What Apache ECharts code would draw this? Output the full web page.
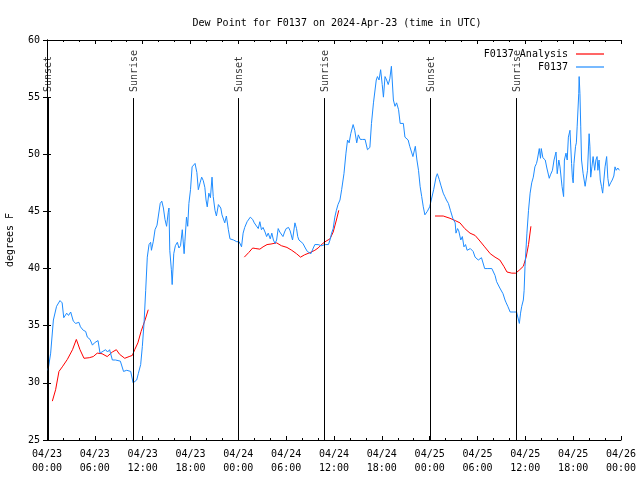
<!DOCTYPE html>
<html>
<head>
<meta charset="utf-8">
<script src="https://cdn.jsdelivr.net/npm/echarts@6/dist/echarts.min.js"></script>
<style>html,body{margin:0;padding:0;background:#fff}#c{width:640px;height:480px}</style>
</head>
<body>
<div id="c"></div>
<script>
// ---- data (x = hours since 2024-04-23 00:00 UTC, y = dew point °F) ----
const xTickLabels = ["04/23\n00:00","04/23\n06:00","04/23\n12:00","04/23\n18:00","04/24\n00:00","04/24\n06:00","04/24\n12:00","04/24\n18:00","04/25\n00:00","04/25\n06:00","04/25\n12:00","04/25\n18:00","04/26\n00:00"];
const yTicks = [25,30,35,40,45,50,55,60];

const sunEventHours = [0.1, 10.83, 24.04, 34.79, 48.04, 58.87];
const sunEventLabels = ["Sunset","Sunrise","Sunset","Sunrise","Sunset","Sunrise"];

const obsHours = [0.13,0.46,0.8,1.2,1.63,1.9,2.1,2.47,2.7,2.97,3.3,3.6,4.0,4.2,4.55,4.85,5.06,5.4,5.7,5.95,6.2,6.4,6.65,6.9,7.35,7.6,7.85,8.2,8.6,9.2,9.6,10.0,10.5,10.8,11.0,11.25,11.45,11.75,11.96,12.17,12.38,12.58,12.8,13.0,13.1,13.34,13.55,13.8,14.2,14.4,14.6,14.8,15.0,15.2,15.3,15.4,15.6,15.7,15.9,16.1,16.35,16.55,16.75,16.97,17.2,17.3,17.5,17.65,17.8,18.0,18.2,18.35,18.57,18.8,18.98,19.2,19.4,19.6,19.8,19.95,20.1,20.3,20.5,20.7,20.85,21.07,21.25,21.5,21.8,21.95,22.3,22.5,22.75,22.95,23.4,23.8,24.1,24.4,24.6,24.8,25.1,25.5,25.8,26.0,26.2,26.5,26.7,26.9,27.1,27.35,27.55,27.75,28.0,28.2,28.4,28.6,28.8,29.0,29.2,29.4,29.6,29.8,30.0,30.3,30.5,30.8,31.1,31.3,31.45,31.6,32.1,32.4,32.65,32.85,33.1,33.4,33.6,34.0,34.4,34.9,35.3,35.5,35.7,35.9,36.1,36.3,36.5,36.75,36.96,37.25,37.5,37.7,37.9,38.1,38.4,38.6,38.85,39.05,39.3,39.6,39.9,40.2,40.5,40.7,40.95,41.3,41.45,41.65,41.85,42.05,42.2,42.4,42.6,42.8,43.0,43.2,43.45,43.65,43.85,44.1,44.3,44.7,44.9,45.3,45.5,45.9,46.2,46.4,46.6,46.8,47.0,47.2,47.4,47.7,48.0,48.2,48.5,48.8,48.96,49.2,49.4,49.7,49.9,50.1,50.35,50.6,50.9,51.2,51.3,51.5,51.65,51.9,52.1,52.3,52.5,52.7,52.9,53.1,53.2,53.45,53.7,53.9,54.1,54.3,54.5,54.7,54.9,55.1,55.3,55.8,56.0,56.2,56.4,56.6,56.8,57.0,57.2,57.45,57.6,57.8,58.1,58.5,58.9,59.1,59.25,59.4,59.55,59.75,59.85,59.96,60.2,60.4,60.6,60.8,61.0,61.2,61.4,61.5,61.75,61.9,62.0,62.2,62.5,62.7,63.0,63.15,63.4,63.6,63.85,64.0,64.2,64.35,64.6,64.8,64.9,65.1,65.25,65.4,65.6,65.8,65.9,66.0,66.1,66.3,66.4,66.5,66.7,66.75,66.85,66.95,67.05,67.25,67.5,67.7,67.8,68.0,68.1,68.2,68.35,68.5,68.7,68.85,69.0,69.1,69.25,69.4,69.55,69.7,69.85,70.0,70.2,70.35,70.5,70.7,70.9,71.1,71.25,71.4,71.6,71.8];
const obsValues = [31.1,32.6,35.5,36.7,37.2,37.0,35.7,36.1,35.9,36.2,35.4,35.2,35.3,34.9,34.6,34.5,34.0,33.8,33.3,33.5,33.6,33.7,32.6,32.7,32.9,32.7,32.9,32.0,32.0,31.9,31.0,31.1,31.0,30.0,30.0,30.25,30.8,31.6,33.2,35.2,38.1,41.0,42.1,42.3,41.6,42.4,43.4,43.8,45.7,45.9,45.3,44.3,43.7,44.9,45.3,41.6,39.9,38.6,41.3,42.0,42.3,41.8,42.0,43.4,41.3,42.4,44.5,43.7,45.7,46.9,48.9,48.8,49.2,48.4,46.9,47.5,48.0,47.7,47.1,46.0,45.4,46.6,46.2,48.0,46.3,45.1,44.6,45.6,45.3,44.7,44.0,44.6,43.4,42.6,42.5,42.35,42.35,41.9,43.1,43.6,44.1,44.5,44.3,44.0,44.1,43.5,44.1,43.4,43.6,43.2,42.8,43.1,42.6,43.1,42.5,42.2,42.5,43.5,43.2,43.1,42.8,43.2,43.5,43.6,43.3,42.5,44.0,43.5,42.8,42.5,42.2,41.8,41.5,41.6,41.3,41.8,42.1,42.1,42.0,42.1,42.1,42.5,43.1,43.5,44.5,45.1,45.6,46.0,46.9,48.3,50.1,51.25,51.0,51.8,52.6,52.1,51.0,51.7,51.3,51.3,51.3,50.4,50.6,52.7,54.5,56.5,56.8,56.5,57.4,56.1,55.0,56.8,56.5,56.1,56.6,57.7,54.75,54.2,54.5,53.9,52.7,52.7,51.5,51.25,50.7,49.8,50.7,49.5,48.6,47.2,46.3,45.4,44.7,45.0,45.4,46.0,46.9,48.0,48.3,47.8,47.3,46.6,46.3,46.0,45.7,45.1,44.4,44.0,43.1,43.5,43.3,42.5,42.8,41.9,42.1,41.6,41.5,41.75,41.9,41.5,41.0,41.1,40.75,40.9,40.95,40.9,40.0,40.1,40.0,40.0,39.9,39.4,38.85,38.7,38.3,38.2,37.8,37.25,37.0,36.7,36.2,36.2,36.2,36.1,35.2,36.1,36.7,37.25,38.1,40.2,43.1,45.1,46.6,47.5,48.0,48.9,49.2,49.5,50.5,49.65,50.5,49.7,49.5,48.8,47.9,48.2,48.6,49.5,50.2,48.3,49.5,48.9,47.2,46.3,49.5,50.1,49.5,51.5,52.1,49.2,48.0,47.5,49.2,50.7,51.0,52.4,55.3,56.8,55.3,52.4,49.5,48.3,47.2,47.2,48.6,51.8,50.65,48.0,48.9,49.8,48.6,49.5,49.8,48.6,49.5,47.75,47.2,46.6,47.75,48.9,49.8,47.9,47.2,47.5,47.75,48.1,48.9,48.6,48.8,48.6];

const anaHours = [0.67,1.08,1.5,1.92,2.55,3.2,3.68,4.14,4.64,5.3,5.8,6.3,6.9,7.55,8.2,8.7,9.1,9.75,10.3,10.7,11.0,11.4,11.8,12.3,12.7,18.0,
  24.75,25.3,25.8,26.2,26.7,27.1,27.6,28.1,28.8,29.4,30.1,30.7,31.3,31.8,32.3,33.0,33.6,34.0,34.6,35.0,35.5,35.9,36.3,36.6,42.0,
  48.67,49.7,50.55,51.2,51.8,52.4,53.06,53.7,54.2,54.9,55.6,56.2,56.8,57.3,57.7,58.3,58.8,59.3,59.75,60.1,60.4,60.7];
const anaValues = [28.4,29.4,31.0,31.4,32.05,32.9,33.8,32.9,32.15,32.2,32.3,32.6,32.55,32.3,32.7,32.9,32.5,32.15,32.3,32.4,32.9,33.5,34.5,35.5,36.4,null,
  41.0,41.4,41.8,41.75,41.7,41.9,42.1,42.15,42.25,42.0,41.85,41.6,41.3,41.0,41.2,41.4,41.6,41.8,42.2,42.4,42.6,43.2,44.25,45.1,null,
  44.6,44.6,44.4,44.2,44.0,43.5,43.1,42.9,42.5,41.9,41.3,41.0,40.75,40.2,39.7,39.6,39.6,39.9,40.2,41.0,42.1,43.7];

// ---- chart ----
const FONT = '"DejaVu Sans Mono", "Liberation Mono", monospace';
const txt = {fontFamily: FONT, fontSize: 10, color: '#000'};
const sunLabelY = 55.45, sunLineTop = 54.92;

const obsData = obsHours.map((h, i) => [h, obsValues[i]]);
const anaData = anaHours.map((h, i) => [h, anaValues[i]]);
const sunData = sunEventHours.map((h, i) => [h, sunLabelY, sunEventLabels[i]]);
const sunLines = sunEventHours.map(h => [{coord: [h, 25]}, {coord: [h, sunLineTop]}]);

const baseX = {type: 'value', min: 0, max: 72, interval: 6,
  axisLine: {show: true, lineStyle: {color: '#000', width: 1}},
  axisTick: {show: true, inside: true, length: 4, lineStyle: {color: '#000'}},
  minorTick: {show: true, splitNumber: 3, length: 2, lineStyle: {color: '#000'}},
  splitLine: {show: false}};
const baseY = {type: 'value', min: 25, max: 60, interval: 5,
  axisLine: {show: true, lineStyle: {color: '#000', width: 1}},
  axisTick: {show: true, inside: true, length: 4, lineStyle: {color: '#000'}},
  splitLine: {show: false}};

const legendBase = {right: 31, align: 'right', icon: 'rect', itemWidth: 28, itemHeight: 1.2,
  textStyle: Object.assign({padding: [0, 3, 0, 0]}, txt)};

const chart = echarts.init(document.getElementById('c'), null, {renderer: 'canvas'});
chart.setOption({
  animation: false,
  backgroundColor: '#fff',
  title: {text: 'Dew Point for F0137 on 2024-Apr-23 (time in UTC)', left: 332, top: 13, textAlign: 'center',
    textStyle: Object.assign({fontWeight: 'normal'}, txt)},
  legend: [
    Object.assign({data: ['F0137 Analysis'], top: 44}, legendBase),
    Object.assign({data: ['F0137'], top: 57}, legendBase)
  ],
  grid: {left: 47, right: 19, top: 40, bottom: 40, containLabel: false, outerBoundsMode: 'none'},
  xAxis: [
    Object.assign({}, baseX, {position: 'bottom',
      axisLabel: Object.assign({margin: 7, lineHeight: 14, formatter: v => xTickLabels[Math.round(v / 6)]}, txt)}),
    Object.assign({}, baseX, {position: 'top', axisLabel: {show: false}})
  ],
  yAxis: [
    Object.assign({}, baseY, {position: 'left', name: 'degrees F', nameLocation: 'middle', nameRotate: 90, nameGap: 32,
      nameTextStyle: txt,
      axisLabel: Object.assign({margin: 7, formatter: v => yTicks.indexOf(v) >= 0 ? String(v) : ''}, txt)}),
    Object.assign({}, baseY, {position: 'right', axisLabel: {show: false}})
  ],
  series: [
    {name: 'sun', type: 'scatter', data: sunData, symbolSize: 0, silent: true, z: 1,
      label: {show: true, position: [1, 0], rotate: 90, align: 'left', verticalAlign: 'middle',
        formatter: p => p.value[2], fontFamily: FONT, fontSize: 10, color: '#000'},
      markLine: {silent: true, symbol: ['none', 'none'], label: {show: false},
        lineStyle: {color: '#000', width: 1, type: 'solid'}, emphasis: {disabled: true}, data: sunLines}},
    {name: 'F0137 Analysis', type: 'line', data: anaData, symbol: 'none', connectNulls: false,
      lineStyle: {color: '#ff0000', width: 1}, itemStyle: {color: '#ff0000'}, z: 2},
    {name: 'F0137', type: 'line', data: obsData, symbol: 'none',
      lineStyle: {color: '#1e8cff', width: 1}, itemStyle: {color: '#1e8cff'}, z: 3}
  ]
});
</script>
</body>
</html>
